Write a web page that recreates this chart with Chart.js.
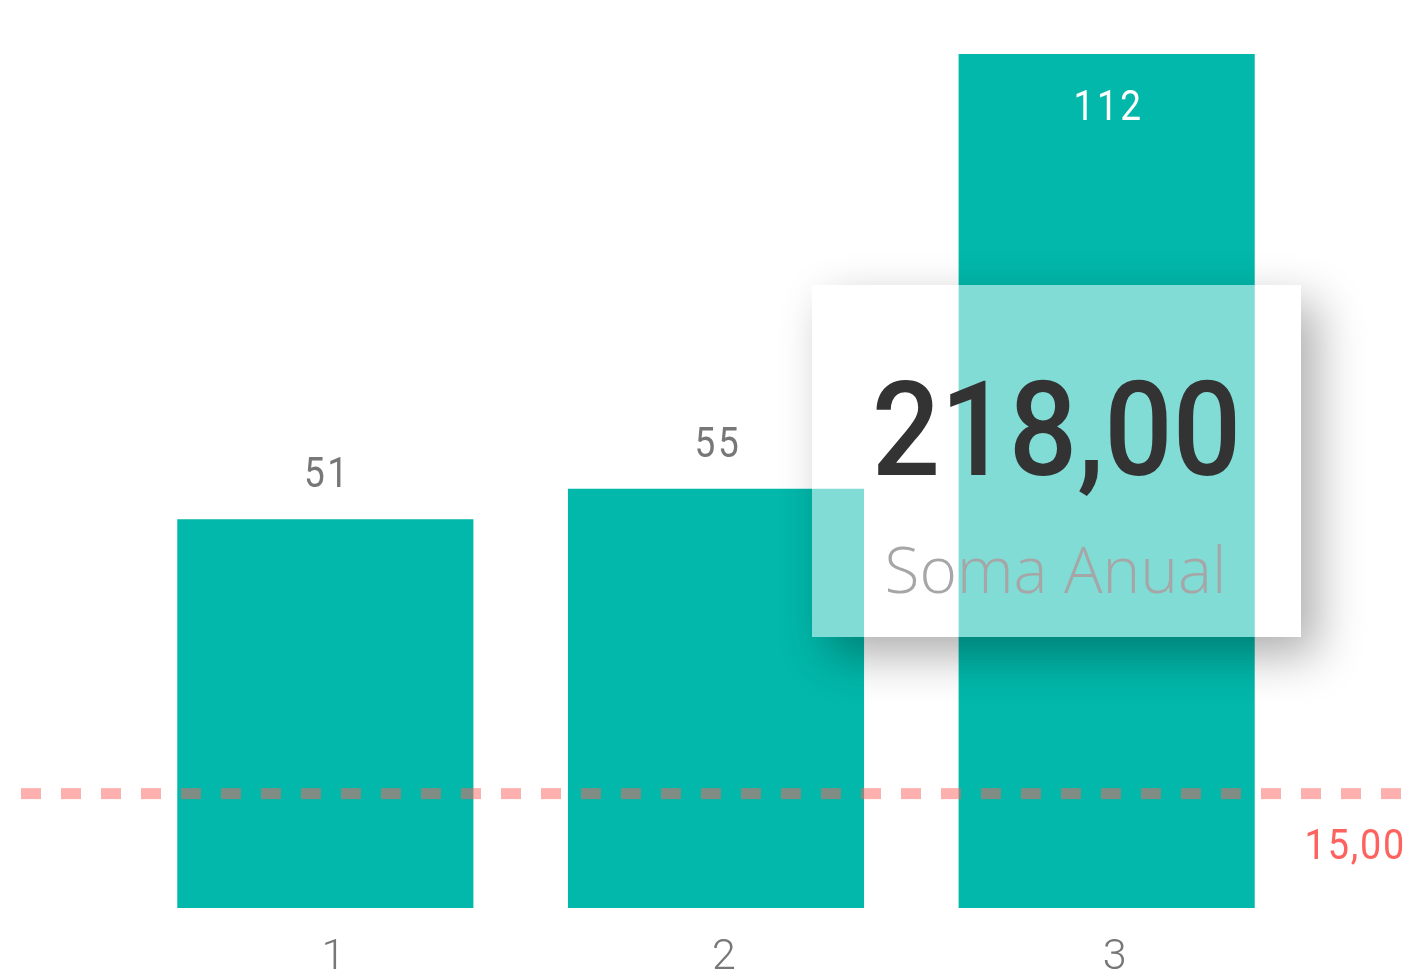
<!DOCTYPE html>
<html>
<head>
<meta charset="utf-8">
<script src="https://cdn.jsdelivr.net/npm/chart.js@4"></script>
<style>
html, body { margin: 0; padding: 0; background: #fff; }
#wrap { width: 1419px; height: 977px; }
</style>
</head>
<body>
<div id="wrap"><canvas id="chart"></canvas></div>
<script>
//categories and values
const categories = ["1", "2", "3"];
const values = [51, 55, 112];
//constant reference line
const refValue = 15;
//card label
const cardLabel = "Soma Anual";

const barColor = "#01b8aa";
const fmt = (v) => v.toFixed(2).replace(".", ",");

//draw text squeezed horizontally (looks closer to the DIN font)
function squeezeText(ctx, text, x, y, sx) {
  ctx.save();
  ctx.translate(x, y);
  ctx.scale(sx, 1);
  ctx.fillText(text, 0, 0);
  ctx.restore();
}

//dashed constant line + its label
const refLine = {
  id: "refLine",
  afterDatasetsDraw(chart) {
    const ctx = chart.ctx;
    const y = chart.scales.y.getPixelForValue(refValue);
    ctx.save();
    ctx.strokeStyle = "rgba(253,98,94,0.5)";
    ctx.lineWidth = 11;
    ctx.setLineDash([20, 20]);
    ctx.beginPath();
    ctx.moveTo(21, y);
    ctx.lineTo(1401, y);
    ctx.stroke();
    ctx.setLineDash([]);
    ctx.fillStyle = "#fd625e";
    ctx.font = "400 42px Roboto";
    ctx.letterSpacing = "2px";
    ctx.textAlign = "right";
    ctx.textBaseline = "alphabetic";
    squeezeText(ctx, fmt(refValue), 1406, y + 65, 0.9);
    ctx.restore();
  }
};

//value labels above / inside bars
const valueLabels = {
  id: "valueLabels",
  afterDatasetsDraw(chart) {
    const ctx = chart.ctx;
    const meta = chart.getDatasetMeta(0);
    ctx.save();
    ctx.font = "400 42px Roboto";
    ctx.letterSpacing = "3px";
    ctx.textAlign = "center";
    ctx.textBaseline = "alphabetic";
    meta.data.forEach((bar, i) => {
      //no room above the bar -> put label inside
      const inside = bar.y - 70 < chart.chartArea.top;
      ctx.fillStyle = inside ? "#ffffff" : "#777777";
      const y = inside ? bar.y + 66 : bar.y - 32;
      squeezeText(ctx, String(values[i]), bar.x + 2, y, 0.88);
    });
    ctx.restore();
  }
};

//card with total on top of the chart
const card = {
  id: "card",
  afterDraw(chart) {
    const ctx = chart.ctx;
    const x = 812, y = 285, w = 489, h = 352;
    const total = values.reduce((a, b) => a + b, 0);
    ctx.save();
    //shadow only outside the card
    ctx.beginPath();
    ctx.rect(0, 0, chart.width, chart.height);
    ctx.rect(x, y, w, h);
    ctx.clip("evenodd");
    ctx.shadowColor = "rgba(0,0,0,0.32)";
    ctx.shadowBlur = 44;
    ctx.shadowOffsetX = 16;
    ctx.shadowOffsetY = 18;
    ctx.fillStyle = "#ffffff";
    ctx.fillRect(x, y, w, h);
    ctx.restore();

    ctx.save();
    ctx.fillStyle = "rgba(255,255,255,0.5)";
    ctx.fillRect(x, y, w, h);
    ctx.textAlign = "center";
    ctx.textBaseline = "alphabetic";
    ctx.fillStyle = "#333333";
    ctx.font = "500 131px Roboto";
    squeezeText(ctx, fmt(total), x + w / 2, 475, 0.92);
    ctx.fillStyle = "#a6a6a6";
    ctx.font = "300 64px 'Open Sans'";
    ctx.fillText(cardLabel, x + w / 2 - 1, 593);
    ctx.restore();
  }
};

const myChart = new Chart(document.getElementById("chart"), {
  type: "bar",
  plugins: [refLine, valueLabels, card],
  data: {
    labels: categories,
    datasets: [
      {
        data: values,
        backgroundColor: barColor,
        categoryPercentage: 1,
        barPercentage: 0.758,
      },
    ],
  },
  options: {
    responsive: true,
    maintainAspectRatio: false,
    animation: false,
    layout: { padding: { left: 130, right: 117, top: 54, bottom: 0 } },
    plugins: {
      legend: { display: false },
      tooltip: { enabled: false },
    },
    scales: {
      x: {
        grid: { display: false, drawTicks: false },
        border: { display: false },
        ticks: {
          color: "#777777",
          font: { family: "Roboto", size: 43, weight: 300 },
          padding: 24,
          labelOffset: 8,
        },
        afterFit(scale) { scale.height = 69; },
      },
      y: {
        display: false,
        min: 0,
        max: 112,
      },
    },
  },
});
</script>
</body>
</html>
